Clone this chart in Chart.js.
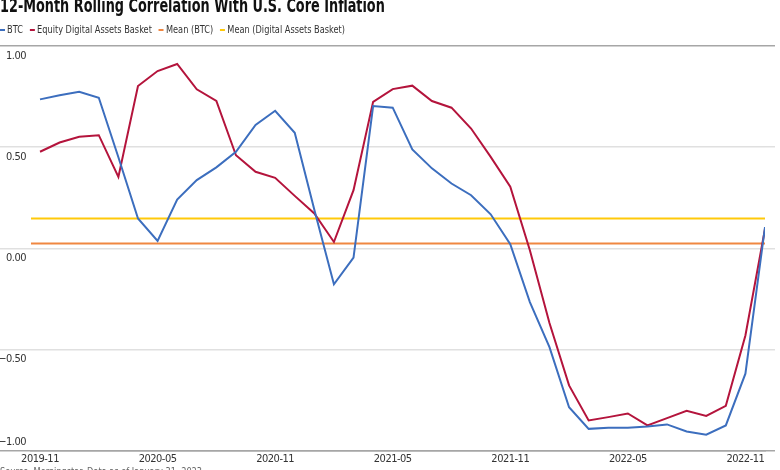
<!DOCTYPE html>
<html><head><meta charset="utf-8">
<script src="https://cdn.jsdelivr.net/npm/chart.js@4"></script>
<style>
html,body{margin:0;padding:0;background:#fff;}
#wrap{position:relative;width:780px;height:470px;overflow:hidden;}
.cf{font-family:"Liberation Sans Narrow","DejaVu Sans Condensed","Roboto Condensed",sans-serif;transform-origin:0 0;}
#title{position:absolute;left:0;top:-5px;font-weight:bold;font-size:20px;line-height:20px;color:#111;white-space:nowrap;transform:scaleX(0.714);}
#legend{position:absolute;left:0;top:23px;font-size:11px;line-height:14px;color:#333;white-space:nowrap;display:flex;transform:scaleX(0.83);}
.item{display:inline-flex;align-items:center;margin-right:8.5px}
.sw{display:inline-block;width:6px;height:2px;margin-right:2.5px}
#source{position:absolute;left:0;top:466px;font-size:11px;line-height:12px;color:#666;white-space:nowrap;transform:scaleX(0.83);}
canvas{position:absolute;left:0;top:0}
</style></head>
<body><div id="wrap">
<canvas id="c" width="780" height="470"></canvas>
<div id="title" class="cf">12-Month Rolling Correlation With U.S. Core Inflation</div>
<div id="legend" class="cf"></div>
<div id="source" class="cf">Source: Morningstar. Data as of January 31, 2023.</div>
</div>
<script>
const months = ["2019-11","2019-12","2020-01","2020-02","2020-03","2020-04","2020-05","2020-06","2020-07","2020-08","2020-09","2020-10","2020-11","2020-12","2021-01","2021-02","2021-03","2021-04","2021-05","2021-06","2021-07","2021-08","2021-09","2021-10","2021-11","2021-12","2022-01","2022-02","2022-03","2022-04","2022-05","2022-06","2022-07","2022-08","2022-09","2022-10","2022-11","2022-12"];
const btc = [0.736,0.756,0.774,0.744,0.45,0.147,0.036,0.241,0.337,0.40,0.477,0.61,0.68,0.571,0.19,-0.178,-0.046,0.703,0.695,0.489,0.395,0.32,0.262,0.168,0.02,-0.266,-0.489,-0.786,-0.893,-0.888,-0.888,-0.881,-0.871,-0.906,-0.922,-0.876,-0.62,0.105];
const basket = [0.477,0.523,0.551,0.559,0.353,0.802,0.876,0.911,0.786,0.728,0.46,0.378,0.348,0.259,0.172,0.031,0.287,0.724,0.787,0.804,0.728,0.695,0.592,0.452,0.304,-0.01,-0.37,-0.678,-0.851,-0.835,-0.817,-0.876,-0.84,-0.804,-0.829,-0.779,-0.431,0.095];
const meanBtc = 0.023;
const meanBasket = 0.147;
const seriesNames = ["BTC","Equity Digital Assets Basket","Mean (BTC)","Mean (Digital Assets Basket)"];
const seriesColors = ["#3C6EBE","#B4143C","#F08741","#FFC90A"];
const yTicks = [-1,-0.5,0,0.5,1];
const xTickEvery = 6;

const FONT = '"Liberation Sans Narrow","DejaVu Sans Condensed",sans-serif';
const xMin = -0.46, xMax = months.length - 1;

const lg = document.getElementById('legend');
seriesNames.forEach((n,i)=>{
  const it=document.createElement('span');it.className='item';
  it.innerHTML='<span class="sw" style="background:'+seriesColors[i]+'"></span>'+n;
  lg.appendChild(it);
});

const pts = arr => arr.map((v,i)=>({x:i,y:v}));
const flat = v => [{x:xMin,y:v},{x:xMax,y:v}];
const fmt = v => (v<0?'\u2212':'') + Math.abs(v).toFixed(2);
const gridCol = ctx => (Math.abs(ctx.tick.value)===1 ? '#a6a6a6' : '#e0e0e0');

const tightText = {
  id:'tightText',
  beforeDraw(chart){ chart.ctx.letterSpacing='-0.5px'; }
};

new Chart(document.getElementById('c'), {
  type:'line',
  data:{datasets:[
    {label:seriesNames[0],data:pts(btc),borderColor:seriesColors[0],borderWidth:2,pointRadius:0,tension:0},
    {label:seriesNames[1],data:pts(basket),borderColor:seriesColors[1],borderWidth:2,pointRadius:0,tension:0},
    {label:seriesNames[2],data:flat(meanBtc),borderColor:seriesColors[2],borderWidth:2,pointRadius:0},
    {label:seriesNames[3],data:flat(meanBasket),borderColor:seriesColors[3],borderWidth:2,pointRadius:0}
  ]},
  plugins:[tightText],
  options:{
    responsive:false,animation:false,devicePixelRatio:1,
    layout:{padding:{top:46,right:5,bottom:2.3,left:0}},
    plugins:{legend:{display:false},tooltip:{enabled:false},title:{display:false}},
    scales:{
      x:{type:'linear',min:xMin,max:xMax,
         grid:{display:false,drawTicks:false},
         border:{display:true,color:'#a6a6a6',width:1.5},
         ticks:{stepSize:xTickEvery,includeBounds:false,autoSkip:false,maxRotation:0,padding:2,
           color:'#333',font:{family:FONT,size:11,lineHeight:1.2},
           callback:v=>months[v]!==undefined && v%xTickEvery===0 ? months[v] : ''}},
      y:{type:'linear',min:-1,max:1,position:'left',
         afterBuildTicks:s=>{s.ticks=yTicks.map(v=>({value:v}));},
         afterFit:s=>{s.width=31;},
         grid:{color:gridCol,lineWidth:1.5,tickLength:31,tickColor:gridCol},
         border:{display:false},
         ticks:{padding:-26,labelOffset:10,color:'#333',font:{family:FONT,size:11,lineHeight:1.1},
           callback:v=> v===-1 ? [fmt(v),'','',''] : fmt(v)}},
      y2:{type:'linear',min:-1,max:1,position:'right',
         afterBuildTicks:s=>{s.ticks=yTicks.map(v=>({value:v}));},
         afterFit:s=>{s.width=10;},
         grid:{drawOnChartArea:false,color:gridCol,lineWidth:1.5,tickLength:10},
         border:{display:false},
         ticks:{display:false}}
    }
  }
});
</script>
</body></html>
